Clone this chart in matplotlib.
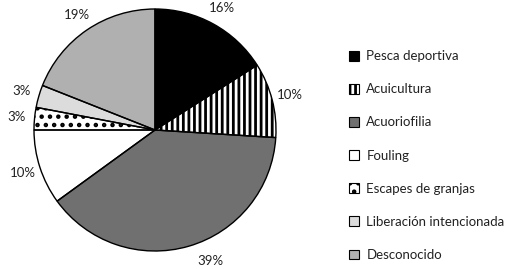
import matplotlib
matplotlib.use("Agg")
import matplotlib.pyplot as plt
from matplotlib.patches import Patch

categories = ["Pesca deportiva", "Acuicultura", "Acuoriofilia", "Fouling",
              "Escapes de granjas", "Liberación intencionada", "Desconocido"]
values = [16, 10, 39, 10, 3, 3, 19]

faces = ["#000000", "#000000", "#707070", "#ffffff", "#ffffff", "#dcdcdc", "#b0b0b0"]
hatches = [None, "|||", None, None, "..", None, None]
hatch_cols = ["#000000", "#ffffff", "#707070", "#000000", "#000000", "#dcdcdc", "#b0b0b0"]

plt.rcParams['font.family'] = ['Lato', 'DejaVu Sans']
plt.rcParams['hatch.linewidth'] = 2.0

fig = plt.figure(figsize=(5.10, 2.69), dpi=100)
W, H = 510, 269
cx, cy, r = 155, 130, 121
ax = fig.add_axes([(cx - r) / W, (H - cy - r) / H, 2 * r / W, 2 * r / H])

# fill layer (edge colour = hatch colour)
wedges, texts, autotexts = ax.pie(values, startangle=90, counterclock=False, colors=faces,
                                  radius=1.0, autopct=lambda p: f"{p:.0f}%", pctdistance=1.15,
                                  textprops=dict(fontsize=9.5, color="#222222"),
                                  wedgeprops=dict(linewidth=0))
for w, h, hc in zip(wedges, hatches, hatch_cols):
    w.set_edgecolor(hc)
    if h:
        w.set_hatch(h)
# the large-slice label sits a bit further round in the reference
x, y = autotexts[2].get_position()
autotexts[2].set_position((x + 0.14, y + 0.025))
# outline layer
ax.pie(values, startangle=90, counterclock=False, radius=1.0,
       wedgeprops=dict(fill=False, edgecolor="black", linewidth=1.0))
ax.set_xlim(-1, 1)
ax.set_ylim(-1, 1)
ax.set_aspect("equal")
ax.axis("off")

handles = []
for f, h, hc in zip(faces, hatches, hatch_cols):
    fill = Patch(facecolor=f, edgecolor=hc, hatch=h, linewidth=0)
    outline = Patch(facecolor="none", edgecolor="black", linewidth=0.8)
    handles.append((fill, outline))
leg = fig.legend(handles, categories, loc="upper left", bbox_to_anchor=(344 / W, 1 - 45 / H),
                 frameon=False, fontsize=9.5, handlelength=0.75, handleheight=0.75,
                 handletextpad=0.55, labelspacing=1.6, borderaxespad=0)
for t in leg.get_texts():
    t.set_color("#222222")

fig.savefig("out.png", dpi=100)
